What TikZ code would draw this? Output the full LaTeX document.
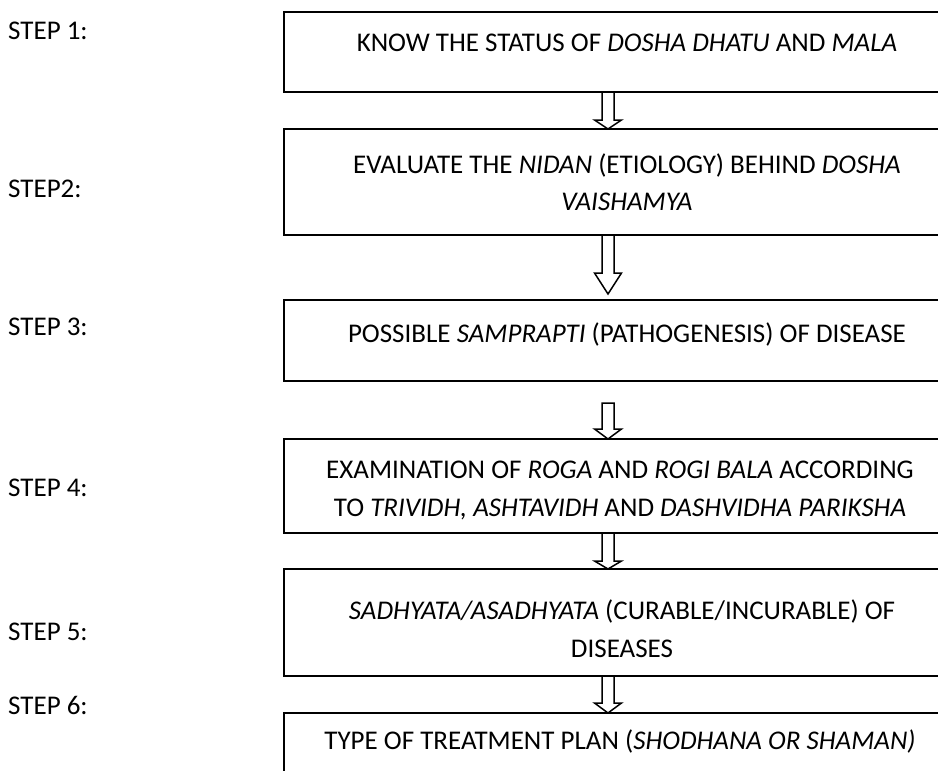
\documentclass[tikz,border=0pt]{standalone}
\usepackage{fontspec}
\setmainfont{Carlito}
\usetikzlibrary{calc}
\newcommand{\hollowarrow}[5]{%
  \path[harrow] let \p1=(#1.south), \p2=(#2.north) in
    ({608pt-6pt},{\y1-#3pt}) -- ({608pt+6pt},{\y1-#3pt}) -- ({608pt+6pt},{\y2+#4pt+#5pt})
    -- ({608pt+13.5pt},{\y2+#4pt+#5pt}) -- ({608pt},{\y2+#4pt})
    -- ({608pt-13.5pt},{\y2+#4pt+#5pt}) -- ({608pt-6pt},{\y2+#4pt+#5pt}) -- cycle;}
\begin{document}
\begin{tikzpicture}[x=1pt,y=-1pt,
  box/.style={draw, line width=1.5pt, rectangle, anchor=north west, inner sep=0pt, outer sep=0pt, minimum width=690pt},
  lbl/.style={anchor=base west, inner sep=0pt, font=\fontsize{27}{38}\selectfont},
  txt/.style={anchor=base, inner sep=0pt, font=\fontsize{27}{38}\selectfont},
  harrow/.style={draw, line width=1.5pt, fill=white, line join=miter}]
\useasboundingbox (0,0) rectangle (938,771);
\clip (0,0) rectangle (938,771);
% boxes
\node[box, minimum height=80pt]  (b1) at (284,12)  {};
\node[box, minimum height=106pt] (b2) at (284,129) {};
\node[box, minimum height=81pt]  (b3) at (284,300) {};
\node[box, minimum height=94pt]  (b4) at (284,439) {};
\node[box, minimum height=107pt] (b5) at (284,569) {};
\node[box, minimum height=100pt] (b6) at (284,713) {};
% step labels
\node[lbl] (s1) at (8,39)  {STEP 1:};
\node[lbl] (s2) at (8,197) {STEP2:};
\node[lbl] (s3) at (8,335) {STEP 3:};
\node[lbl] (s4) at (8,496) {STEP 4:};
\node[lbl] (s5) at (8,640) {STEP 5:};
\node[lbl] (s6) at (8,714) {STEP 6:};
% box texts
\node[txt] (t1) at (627,51) {KNOW THE STATUS OF \textit{DOSHA DHATU} AND \textit{MALA}};
\node[txt] (t2a) at (627,173) {EVALUATE THE \textit{NIDAN} (ETIOLOGY) BEHIND \textit{DOSHA}};
\node[txt] (t2b) at (627,210) {\textit{VAISHAMYA}};
\node[txt] (t3) at (627,342) {POSSIBLE \textit{SAMPRAPTI} (PATHOGENESIS) OF DISEASE};
\node[txt] (t4a) at (620,478) {EXAMINATION OF \textit{ROGA} AND \textit{ROGI BALA} ACCORDING};
\node[txt] (t4b) at (620,516) {TO \textit{TRIVIDH, ASHTAVIDH} AND \textit{DASHVIDHA PARIKSHA}};
\node[txt] (t5a) at (622,619) {\textit{SADHYATA/ASADHYATA} (CURABLE/INCURABLE) OF};
\node[txt] (t5b) at (622,657) {DISEASES};
\node[txt] (t6) at (620,749) {TYPE OF TREATMENT PLAN (\textit{SHODHANA OR SHAMAN)}};
% arrows
\hollowarrow{b1}{b2}{0}{0}{9}
\hollowarrow{b2}{b3}{0}{6}{21}
\hollowarrow{b3}{b4}{22}{0}{10}
\hollowarrow{b4}{b5}{0}{0}{8}
\hollowarrow{b5}{b6}{0}{0}{10}
\end{tikzpicture}
\end{document}
